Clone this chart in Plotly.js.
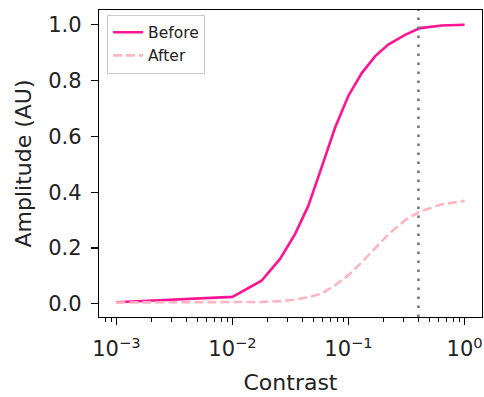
<!DOCTYPE html>
<html>
<head>
<meta charset="utf-8">
<script src="https://cdn.plot.ly/plotly-3.0.1.min.js"></script>
<style>html,body{margin:0;padding:0;background:#fff;}#chart{width:484px;height:397px;}</style>
</head>
<body>
<div id="chart"></div>
<script>
const contrast = [0.001, 0.01, 0.0178, 0.0257, 0.0346, 0.045, 0.0587, 0.0765, 0.0995, 0.13, 0.169, 0.22, 0.307, 0.413, 0.635, 1.0];
const before   = [0.006, 0.025, 0.083, 0.161, 0.25, 0.351, 0.49, 0.631, 0.745, 0.827, 0.887, 0.929, 0.964, 0.988, 0.9975, 1.0];
const after    = [0.005, 0.006, 0.007, 0.010, 0.015, 0.024, 0.037, 0.067, 0.102, 0.149, 0.198, 0.249, 0.300, 0.331, 0.357, 0.369];
const thresholdContrast = [0.4];
const xTickVals = [0.001, 0.01, 0.1, 1];
const xTickText = ['10<sup>\u22123</sup>', '10<sup>\u22122</sup>', '10<sup>\u22121</sup>', '10<sup>0</sup>'];
const yTickVals = [0.0, 0.2, 0.4, 0.6, 0.8, 1.0];
const seriesNames = ['Before', 'After'];
const minorDigits = [2, 3, 4, 5, 6, 7, 8, 9];
const minorDecades = [0.0001, 0.001, 0.01, 0.1, 1];

const minorVals = [];
minorDecades.forEach(function (d) { minorDigits.forEach(function (m) { minorVals.push(d * m); }); });

const font = 'DejaVu Sans, sans-serif';
const traces = [
  {x: contrast, y: before, name: seriesNames[0], mode: 'lines', legendgroup: 'a',
   line: {color: '#FF1493', width: 2.6}},
  {x: contrast, y: after, name: seriesNames[1], mode: 'lines', legendgroup: 'b',
   line: {color: '#FFB6C1', width: 2.6, dash: '9px,4px'}}
];
const layout = {
  width: 484, height: 397,
  margin: {l: 99, r: 2, t: 10, b: 80},
  paper_bgcolor: '#fff', plot_bgcolor: '#fff',
  font: {family: font, color: '#222'},
  showlegend: true,
  legend: {x: 0.021, y: 0.985, xanchor: 'left', yanchor: 'top',
    bgcolor: 'rgba(255,255,255,0.85)', bordercolor: '#cccccc', borderwidth: 1,
    font: {family: font, size: 15.5, color: '#222'}, traceorder: 'grouped', tracegroupgap: 0},
  xaxis: {type: 'log', range: [-3.15, 0.15], showgrid: false, zeroline: false,
    showline: true, mirror: true, linecolor: '#000', linewidth: 1.2,
    ticks: 'outside', ticklen: 7, tickwidth: 1.2, tickcolor: '#000',
    tickvals: xTickVals, ticktext: xTickText, ticklabeloverflow: 'allow', ticklabelstandoff: 6,
    tickfont: {family: font, size: 21, color: '#222'},
    minor: {ticks: 'outside', ticklen: 4, tickwidth: 1, tickcolor: '#000', tickvals: minorVals, showgrid: false},
    title: {text: 'Contrast', font: {family: font, size: 22, color: '#222'}, standoff: 14}},
  yaxis: {range: [-0.047, 1.053], showgrid: false, zeroline: false,
    showline: true, mirror: true, linecolor: '#000', linewidth: 1.2,
    ticks: 'outside', ticklen: 7, tickwidth: 1.2, tickcolor: '#000',
    tickvals: yTickVals, tickformat: '.1f', ticklabelstandoff: 5,
    tickfont: {family: font, size: 21, color: '#222'},
    title: {text: 'Amplitude (AU)', font: {family: font, size: 22, color: '#222'}, standoff: 10}},
  shapes: [{type: 'line', xref: 'x', yref: 'paper', x0: thresholdContrast[0], x1: thresholdContrast[0], y0: 0, y1: 1,
    line: {color: 'rgb(120,120,120)', width: 2.6, dash: '2.6px,6.4px'}}]
};
Plotly.newPlot('chart', traces, layout, {displayModeBar: false, staticPlot: true});
</script>
</body>
</html>
